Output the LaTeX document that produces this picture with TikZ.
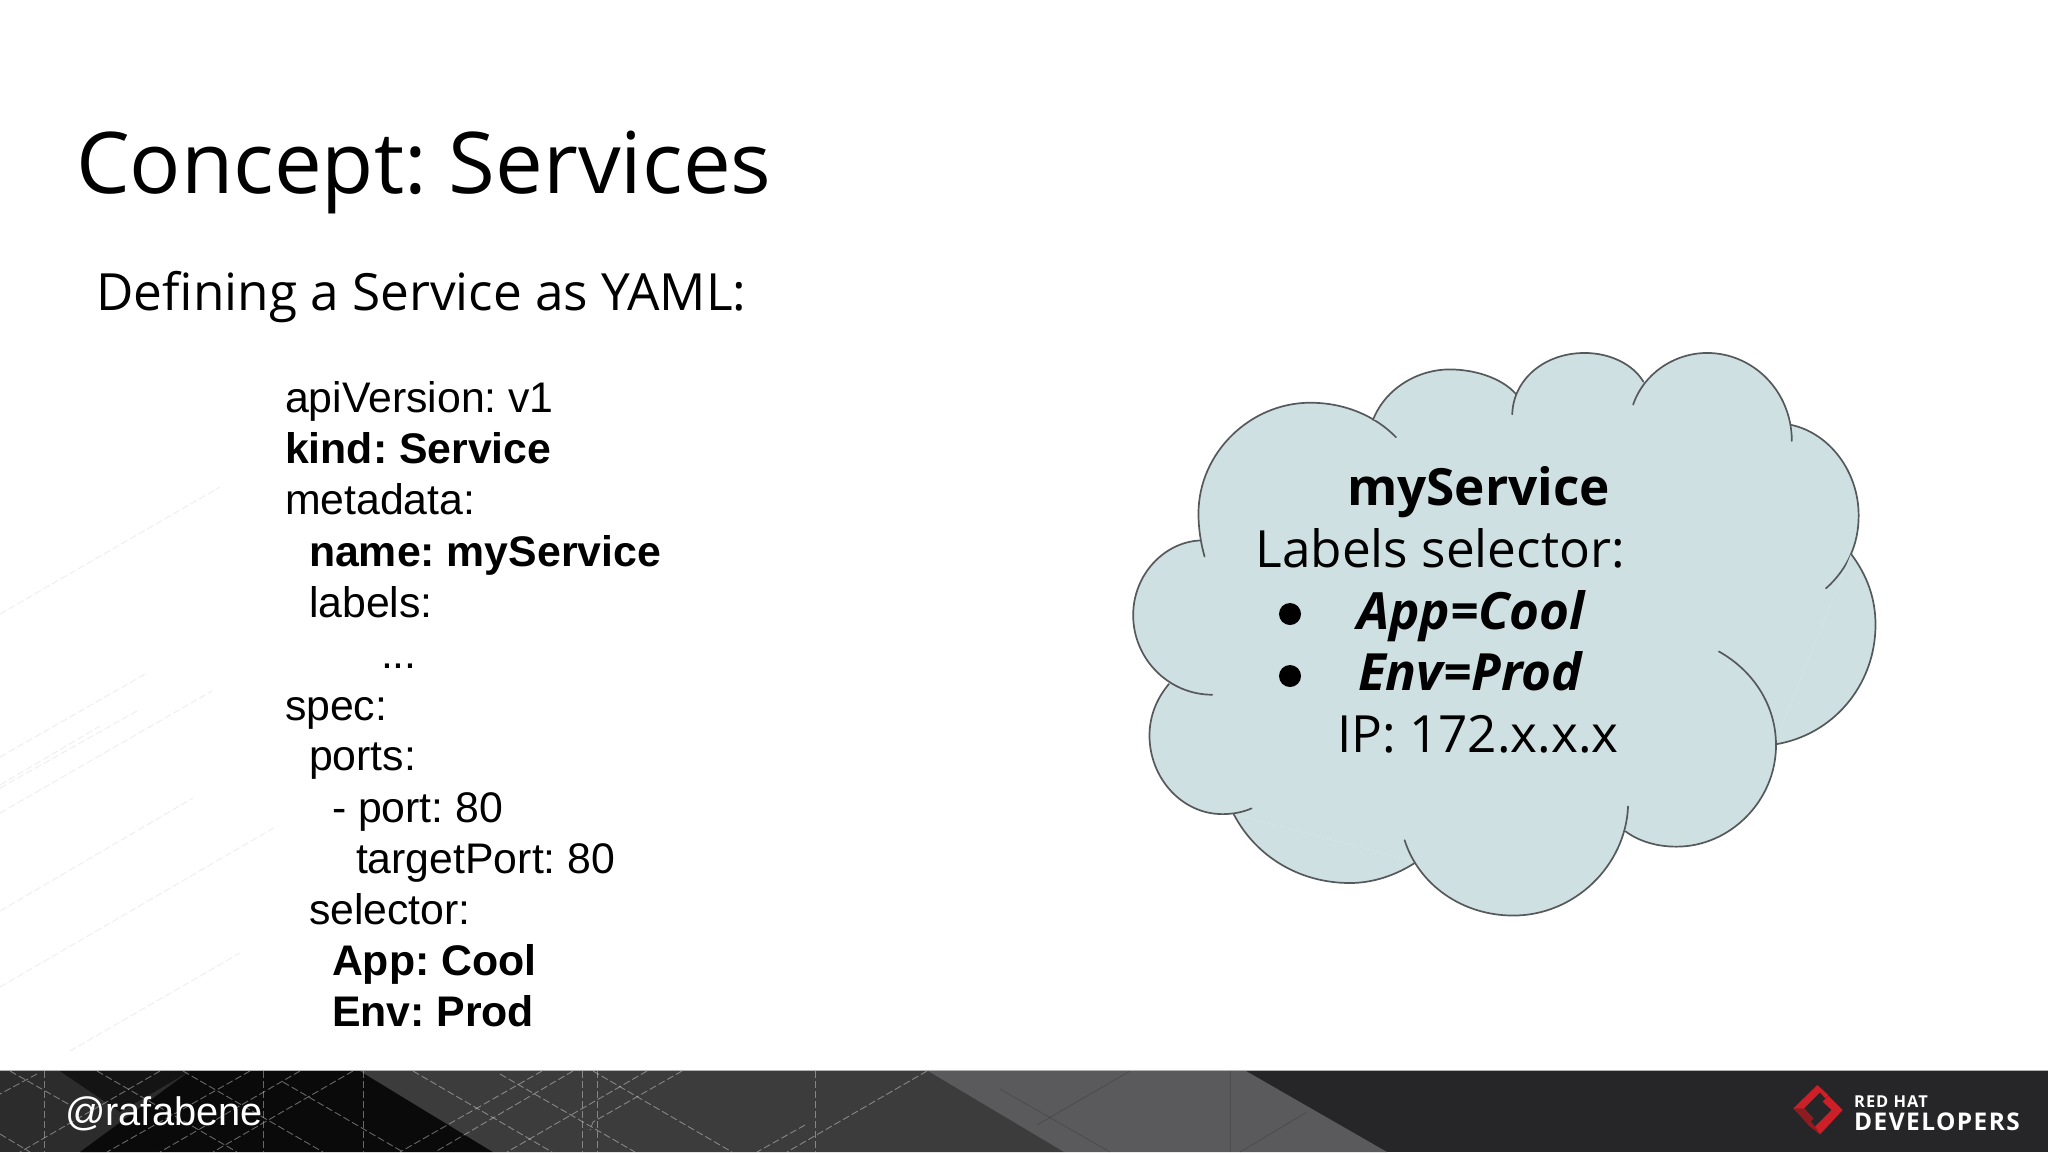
\documentclass[tikz,border=0pt]{standalone}
\usepackage{fontspec}
\setmainfont{Open Sans}
\newfontfamily\arialfont{Liberation Sans}
\newfontfamily\logofont[LetterSpace=6]{Open Sans}
\AtBeginDocument{\frenchspacing}
\newcommand{\fsz}[1]{\fontsize{#1}{#1}\selectfont}
\definecolor{cloudfill}{HTML}{CFE0E3}
\definecolor{cloudline}{HTML}{55595B}
\definecolor{barbase}{HTML}{262527}
\definecolor{barleft}{HTML}{2C2C2C}
\definecolor{barblack}{HTML}{0A0A0A}
\definecolor{barmid}{HTML}{3C3C3C}
\definecolor{barlight}{HTML}{5A5A5C}
\definecolor{wmark}{HTML}{EEEEEE}
\definecolor{rhred}{HTML}{CC1F27}
\definecolor{rhdark}{HTML}{8E1B20}
\tikzset{
  txt/.style={inner sep=0pt,outer sep=0pt,anchor=base west,text=black},
  yaml/.style={txt,font=\arialfont\fsz{42.8}},
  yamlbold/.style={txt,font=\arialfont\bfseries\fsz{42.8}},
  cloudtext/.style={txt,font=\fsz{51.3}},
  bulletdot/.style={circle,fill=black,inner sep=0pt,minimum size=22pt},
  lobeline/.style={draw=cloudline,line width=1.7pt,line cap=round,line join=round},
  patline/.style={white,opacity=.38,line width=.9pt,dash pattern=on 7pt off 3pt},
  faintline/.style={black,opacity=.14,line width=.9pt},
  wline/.style={wmark,line width=.9pt,dash pattern=on 7pt off 3pt}
}
\newcommand{\lobefill}[1]{\fill[cloudfill] #1 -- cycle;}
\newcommand{\lobedraw}[1]{\draw[lobeline] #1;}
\newcommand{\lobe}[1]{\lobefill{#1}\lobedraw{#1}}
\begin{document}
\begin{tikzpicture}[x=1pt,y=-1pt]
\useasboundingbox (0,0) rectangle (2048,1152);
\fill[white] (0,0) rectangle (2048,1152);
% watermark lines
\draw[wline] (0,614) -- (220,487);
\draw[wline] (0,757) -- (147,673);
\draw[wline] (0,785) -- (100,726);
\draw[wline] (0,788) -- (137,711);
\draw[wline] (0,813) -- (212,691);
\draw[wline] (0,911) -- (193,798);
\draw[wline] (0,987) -- (277,826);
\draw[wline] (70,1051) -- (240,953);
% footer
\fill[barbase] (0,1071) rectangle (2048,1152);
\fill[barleft] (0,1071) rectangle (300,1152);
\fill[barblack] (190,1071) -- (360,1071) -- (493,1152) -- (80,1152) -- cycle;
\fill[barblack!70!barleft] (60,1071) -- (190,1071) -- (120,1112) -- cycle;
\fill[barmid] (360,1071) -- (928,1071) -- (1064,1152) -- (493,1152) -- cycle;
\fill[barlight] (928,1071) -- (1246,1071) -- (1387,1152) -- (1064,1152) -- cycle;
\draw[gray!60,line width=.8pt] (0,1070.5) -- (2048,1070.5);
\begin{scope}
\clip (0,1071) rectangle (2048,1152);
\foreach \vx in {44,263,363,582,597,815}{\draw[patline] (\vx,1071) -- (\vx,1152);}
\draw[faintline] (1230,1071) -- (1230,1152);
\draw[faintline] (1130,1071) -- (1037,1125);
\draw[faintline] (1307,1112) -- (1240,1152);
\draw[faintline] (1000,1089) -- (1110,1152);
% rising diagonals
\draw[patline] (37,1074) -- (0,1094);
\draw[patline] (160,1071) -- (20,1152);
\draw[patline] (250,1071) -- (107,1152);
\draw[patline] (300,1071) -- (160,1152);
\draw[patline] (353,1071) -- (213,1152);
\draw[patline] (542,1071) -- (400,1152);
\draw[patline] (573,1071) -- (435,1152);
\draw[patline] (647,1071) -- (507,1152);
\draw[patline] (682,1071) -- (593,1122) -- (590,1130);
\draw[patline] (927,1071) -- (787,1152);
\draw[patline] (805,1125) -- (757,1152);
% falling diagonals
\draw[patline] (10,1071) -- (70,1105);
\draw[patline] (0,1134) -- (30,1152);
\draw[patline] (97,1071) -- (237,1152);
\draw[patline] (183,1071) -- (323,1152);
\draw[patline] (283,1082) -- (403,1152);
\draw[patline] (413,1071) -- (552,1152);
\draw[patline] (500,1074) -- (635,1152);
\draw[patline] (593,1071) -- (732,1152);
\end{scope}
% logo
\begin{scope}[shift={(1780,1075)},x=.3333pt,y=-.3333pt]
\fill[rhred] (112,30) -- (40,100) -- (85,148) -- (100,130) -- (72,100) -- (120,52) -- (136,70) -- (145,60) -- cycle;
\fill[rhdark] (40,100) -- (85,148) -- (100,130) -- (72,100) -- cycle;
\fill[rhred] (120,178) -- (188,105) -- (145,62) -- (128,80) -- (155,105) -- (105,155) -- (92,140) -- (85,150) -- cycle;
\fill[rhdark] (120,178) -- (105,155) -- (92,140) -- (85,150) -- cycle;
\end{scope}
\node[inner sep=0pt,anchor=base west,text=white,font=\logofont\bfseries\fsz{16.4}] (rh) at (1854,1107) {RED HAT};
\node[inner sep=0pt,anchor=base west,text=white,font=\logofont\bfseries\fsz{24.4}] (dev) at (1854,1130) {DEVELOPERS};
\node[inner sep=0pt,anchor=base west,text=white,font=\arialfont\fsz{39.8}] (handle) at (65,1125) {@rafabene};
% headings
\node[txt,font=\fsz{85.2}] (title) at (76,193) {Concept: Services};
\node[txt,font=\fsz{51.3}] (sub) at (96.5,310) {Defining a Service as YAML:};
% yaml
\node[yaml] (y1) at (285,412) {apiVersion: v1};
\node[yamlbold] (y2) at (285,463) {kind: Service};
\node[yaml] (y3) at (285,514) {metadata:};
\node[yamlbold] (y4) at (309,566) {name: myService};
\node[yaml] (y5) at (309,617) {labels:};
\node[yaml] (y6) at (381,668) {...};
\node[yaml] (y7) at (285,720) {spec:};
\node[yaml] (y8) at (309,770.5) {ports:};
\node[yaml] (y9) at (332,822) {- port: 80};
\node[yaml] (y10) at (356,873) {targetPort: 80};
\node[yaml] (y11) at (309,924) {selector:};
\node[yamlbold] (y12) at (332,975.5) {App: Cool};
\node[yamlbold] (y13) at (332,1026) {Env: Prod};
% cloud
\begin{scope}[shift={(1100,330)},x=.5102pt,y=-.3827pt]
\fill[cloudfill] (195,550) -- (535,235) -- (820,170) -- (1065,135) -- (1355,250) -- (1472,585) -- (1322,1083) -- (1030,1310) -- (620,1390) -- (262,1265) -- (135,925) -- cycle;
\lobe{(205,592) .. controls (198,560) and (193,520) .. (193,480) .. controls (193,320) and (295,190) .. (412,190) .. controls (480,190) and (540,225) .. (580,280)}
\lobe{(535,235) .. controls (560,150) and (625,103) .. (685,103) .. controls (740,103) and (795,130) .. (820,175)}
\lobe{(808,220) .. controls (810,130) and (870,60) .. (950,60) .. controls (1000,60) and (1045,90) .. (1065,135)}
\lobe{(1045,195) .. controls (1065,115) and (1125,60) .. (1190,60) .. controls (1280,60) and (1356,160) .. (1356,290)}
\lobe{(1355,248) .. controls (1430,270) and (1487,370) .. (1487,485) .. controls (1487,560) and (1465,625) .. (1423,675)}
\lobe{(1472,585) .. controls (1503,640) and (1520,700) .. (1520,770) .. controls (1520,930) and (1435,1060) .. (1322,1083)}
\lobefill{(1213,840) .. controls (1280,890) and (1325,980) .. (1325,1085) .. controls (1325,1230) and (1235,1350) .. (1130,1350) .. controls (1090,1350) and (1055,1335) .. (1030,1310)}
\lobe{(620,1390) .. controls (580,1425) and (535,1445) .. (490,1445) .. controls (390,1445) and (305,1375) .. (262,1265)}
\lobe{(297,1250) .. controls (280,1260) and (260,1265) .. (240,1265) .. controls (160,1265) and (97,1170) .. (97,1060) .. controls (97,1010) and (110,965) .. (135,925)}
\lobe{(220,953) .. controls (135,953) and (65,860) .. (65,745) .. controls (65,640) and (125,555) .. (195,550)}
\lobe{(1035,1245) .. controls (1030,1400) and (930,1530) .. (810,1530) .. controls (710,1530) and (625,1450) .. (597,1333)}
\lobedraw{(1213,840) .. controls (1280,890) and (1325,980) .. (1325,1085) .. controls (1325,1230) and (1235,1350) .. (1130,1350) .. controls (1090,1350) and (1055,1335) .. (1030,1310)}
\end{scope}
\node[cloudtext,font=\bfseries\fsz{51.3}] (cname) at (1347,505) {myService};
\node[cloudtext] (csel) at (1255.5,567) {Labels selector:};
\node[bulletdot] (b1) at (1290,614) {};
\node[cloudtext,font=\bfseries\itshape\fsz{51.3}] (capp) at (1357,629) {App=Cool};
\node[bulletdot] (b2) at (1290,676) {};
\node[cloudtext,font=\bfseries\itshape\fsz{51.3}] (cenv) at (1358,690.5) {Env=Prod};
\node[cloudtext] (cip) at (1337,752.5) {IP: 172.x.x.x};
\end{tikzpicture}
\end{document}
